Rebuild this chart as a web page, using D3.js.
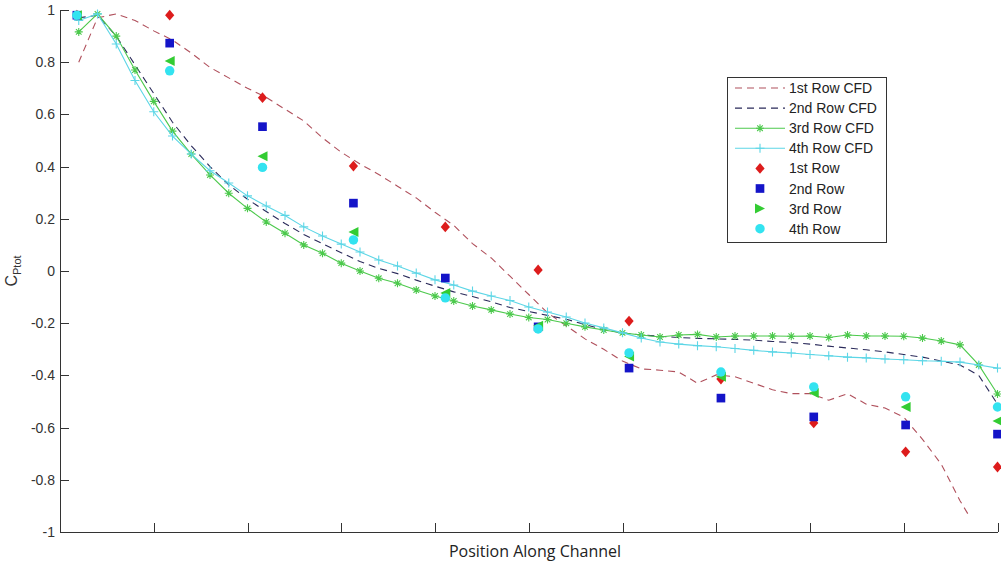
<!DOCTYPE html>
<html lang="en">
<head>
<meta charset="utf-8">
<title>Cptot along channel</title>
<script type="text/javascript" src="https://d3js.org/d3.v7.min.js"></script>
<style>
body { margin: 0; background: #fff; }
.axis path, .axis line { stroke: #333; stroke-width: 1; shape-rendering: crispEdges; }
.axis text { font-family: "Liberation Sans", Arial, sans-serif; font-size: 14px; fill: #333; }
.legend text { font-family: "Liberation Sans", Arial, sans-serif; font-size: 14px; fill: #222; }
.xlabel { font-family: "Open Sans", sans-serif; font-size: 16px; fill: #222; }
</style>
</head>
<body>
<div id="container"></div>
<script type="text/javascript">
// CFD sample positions along the channel
var xCfd = [0.2, 0.4, 0.6, 0.8, 1.0, 1.2, 1.4, 1.6, 1.8, 2.0,
            2.2, 2.4, 2.6, 2.8, 3.0, 3.2, 3.4, 3.6, 3.8, 4.0,
            4.2, 4.4, 4.6, 4.8, 5.0, 5.2, 5.4, 5.6, 5.8, 6.0,
            6.2, 6.4, 6.6, 6.8, 7.0, 7.2, 7.4, 7.6, 7.8, 8.0,
            8.2, 8.4, 8.6, 8.8, 9.0, 9.2, 9.4, 9.6, 9.8, 10.0];
var xCfd1 = xCfd.slice(0, 48).concat([9.7]);

var cfd1 = [0.80, 0.97, 0.985, 0.96, 0.92, 0.885, 0.835, 0.78, 0.74, 0.70,
            0.665, 0.62, 0.575, 0.51, 0.455, 0.41, 0.37, 0.325, 0.28, 0.225,
            0.175, 0.105, 0.05, -0.02, -0.09, -0.16, -0.21, -0.26, -0.30, -0.345,
            -0.375, -0.38, -0.387, -0.43, -0.398, -0.405, -0.43, -0.455, -0.47, -0.47,
            -0.495, -0.47, -0.51, -0.525, -0.56, -0.645, -0.74, -0.88, -0.94];
var cfd2 = [0.97, 0.98, 0.90, 0.79, 0.68, 0.57, 0.48, 0.40, 0.33, 0.275,
            0.228, 0.182, 0.14, 0.105, 0.07, 0.036, 0.01, -0.01, -0.035, -0.058,
            -0.08, -0.098, -0.118, -0.14, -0.155, -0.17, -0.185, -0.205, -0.225, -0.237,
            -0.245, -0.25, -0.255, -0.258, -0.26, -0.262, -0.265, -0.27, -0.274, -0.28,
            -0.288, -0.295, -0.302, -0.31, -0.32, -0.33, -0.345, -0.36, -0.40, -0.51];
var cfd3 = [0.916, 0.985, 0.90, 0.77, 0.65, 0.536, 0.448, 0.368, 0.298, 0.24,
            0.188, 0.145, 0.10, 0.068, 0.03, 0.0, -0.028, -0.047, -0.073, -0.096,
            -0.115, -0.134, -0.149, -0.165, -0.178, -0.186, -0.2, -0.214, -0.226, -0.237,
            -0.245, -0.253, -0.245, -0.243, -0.253, -0.249, -0.249, -0.249, -0.25, -0.249,
            -0.255, -0.245, -0.249, -0.249, -0.25, -0.257, -0.268, -0.283, -0.36, -0.471];
var cfd4 = [0.96, 0.985, 0.87, 0.73, 0.61, 0.517, 0.448, 0.384, 0.337, 0.288,
            0.249, 0.213, 0.169, 0.134, 0.103, 0.073, 0.042, 0.019, -0.008, -0.034,
            -0.054, -0.077, -0.096, -0.113, -0.138, -0.157, -0.176, -0.199, -0.218, -0.237,
            -0.257, -0.272, -0.28, -0.286, -0.29, -0.297, -0.304, -0.31, -0.314, -0.32,
            -0.325, -0.33, -0.333, -0.337, -0.34, -0.344, -0.346, -0.349, -0.36, -0.372];

// measured positions
var xExp = [0.18, 1.17, 2.16, 3.13, 4.11, 5.10, 6.07, 7.05, 8.04, 9.02, 10.0];
var row1 = [0.98, 0.98, 0.664, 0.402, 0.169, 0.004, -0.192, -0.414, -0.582, -0.693, -0.751];
var row2 = [0.98, 0.873, 0.553, 0.26, -0.027, -0.214, -0.372, -0.487, -0.559, -0.59, -0.625];
var row3 = [0.98, 0.805, 0.44, 0.149, -0.084, -0.21, -0.328, -0.405, -0.467, -0.521, -0.575];
var row4 = [0.98, 0.767, 0.397, 0.119, -0.103, -0.222, -0.314, -0.387, -0.444, -0.482, -0.521];

var yTicks = [1, 0.8, 0.6, 0.4, 0.2, 0, -0.2, -0.4, -0.6, -0.8, -1];
var xTicks = [1, 2, 3, 4, 5, 6, 7, 8, 9, 10];

var legendNames = ["1st Row CFD", "2nd Row CFD", "3rd Row CFD", "4th Row CFD",
                   "1st Row", "2nd Row", "3rd Row", "4th Row"];

var w = 1001, h = 563;
var svg = d3.select("#container").append("svg")
    .attr("width", w).attr("height", h)
    .style("background-color", "#fff");

var x = d3.scaleLinear().domain([0, 10]).range([60, 997.5]);
var y = d3.scaleLinear().domain([-1, 1]).range([532, 10]);

// axes (ticks point inward)
svg.append("g").attr("class", "axis")
    .attr("transform", "translate(60,0)")
    .call(d3.axisLeft(y).tickValues(yTicks).tickSizeInner(-9).tickSizeOuter(0).tickPadding(5)
        .tickFormat(function(d) { return String(+d.toFixed(1)); }));
svg.append("g").attr("class", "axis")
    .attr("transform", "translate(0,532)")
    .call(d3.axisBottom(x).tickValues(xTicks).tickSizeInner(-9).tickSizeOuter(0).tickFormat(""));

svg.append("text").attr("class", "xlabel")
    .attr("x", 535).attr("y", 557).attr("text-anchor", "middle")
    .text("Position Along Channel");

var yl = svg.append("text")
    .attr("transform", "translate(17,271) rotate(-90)")
    .attr("text-anchor", "middle")
    .style("font-family", "Liberation Sans, Arial, sans-serif")
    .style("fill", "#333");
yl.append("tspan").style("font-size", "16px").text("C");
yl.append("tspan").style("font-size", "11px").attr("dy", 4).text("Ptot");

// CFD lines
var line = d3.line().x(function(d) { return x(d[0]); }).y(function(d) { return y(d[1]); });
function pairs(xs, ys) { return xs.map(function(v, i) { return [v, ys[i]]; }); }

var cfdSeries = [
    {xs: xCfd1, ys: cfd1, color: "#b0505c", dash: "7,5", mark: null},
    {xs: xCfd, ys: cfd2, color: "#2a2a5a", dash: "7,5", mark: null},
    {xs: xCfd, ys: cfd3, color: "#4cc94c", dash: null, mark: "star"},
    {xs: xCfd, ys: cfd4, color: "#5cd6e6", dash: null, mark: "plus"}
];

function starPath(s) {
    var d = s * 0.7;
    return "M" + (-s) + ",0L" + s + ",0M0," + (-s) + "L0," + s +
        "M" + (-d) + "," + (-d) + "L" + d + "," + d + "M" + (-d) + "," + d + "L" + d + "," + (-d);
}
function plusPath(s) {
    return "M" + (-s) + ",0L" + s + ",0M0," + (-s) + "L0," + s;
}

cfdSeries.forEach(function(s) {
    var pts = pairs(s.xs, s.ys);
    svg.append("path").datum(pts)
        .attr("fill", "none").attr("stroke", s.color).attr("stroke-width", 1.1)
        .attr("stroke-dasharray", s.dash)
        .attr("d", line);
    if (s.mark) {
        svg.selectAll(null).data(pts).enter().append("path")
            .attr("transform", function(d) { return "translate(" + x(d[0]) + "," + y(d[1]) + ")"; })
            .attr("d", s.mark == "star" ? starPath(4) : plusPath(4.5))
            .attr("fill", "none").attr("stroke", s.color).attr("stroke-width", 1.1);
    }
});

// measured markers
function triLeft(s) { return "M" + (-s) + ",0L" + s + "," + (-s) + "L" + s + "," + s + "Z"; }
function triRight(s) { return "M" + s + ",0L" + (-s) + "," + (-s) + "L" + (-s) + "," + s + "Z"; }
function diamond(wd, ht) { return "M0," + (-ht) + "L" + wd + ",0L0," + ht + "L" + (-wd) + ",0Z"; }

var expSeries = [
    {ys: row1, color: "#dd1c1c", shape: diamond(4.6, 5.4)},
    {ys: row2, color: "#1414c8", shape: d3.symbol().type(d3.symbolSquare).size(75)()},
    {ys: row3, color: "#33cc33", shape: triLeft(5)},
    {ys: row4, color: "#33e3f0", shape: d3.symbol().type(d3.symbolCircle).size(70)()}
];

expSeries.forEach(function(s) {
    svg.selectAll(null).data(pairs(xExp, s.ys)).enter().append("path")
        .attr("transform", function(d) { return "translate(" + x(d[0]) + "," + y(d[1]) + ")"; })
        .attr("d", s.shape)
        .attr("fill", s.color);
});

// legend
var lg = svg.append("g").attr("class", "legend");
lg.append("rect").attr("x", 727.5).attr("y", 77.5).attr("width", 159).attr("height", 165)
    .attr("fill", "#fff").attr("stroke", "#333").attr("stroke-width", 1);

legendNames.forEach(function(name, i) {
    var ly = 88 + i * 20.1;
    if (i < 4) {
        var s = cfdSeries[i];
        lg.append("line").attr("x1", 735).attr("x2", 785).attr("y1", ly).attr("y2", ly)
            .attr("stroke", s.color).attr("stroke-width", 1.1).attr("stroke-dasharray", s.dash);
        if (s.mark) {
            lg.append("path").attr("transform", "translate(760," + ly + ")")
                .attr("d", s.mark == "star" ? starPath(4) : plusPath(4.5))
                .attr("fill", "none").attr("stroke", s.color).attr("stroke-width", 1.1);
        }
    } else {
        var e = expSeries[i - 4];
        lg.append("path").attr("transform", "translate(760," + ly + ")")
            .attr("d", i == 6 ? triRight(5) : e.shape)
            .attr("fill", e.color);
    }
    lg.append("text").attr("x", 789).attr("y", ly + 5).text(name);
});
</script>
</body>
</html>
